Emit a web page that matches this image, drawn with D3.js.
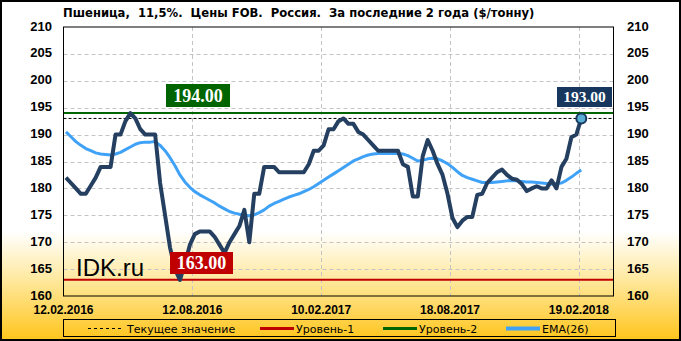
<!DOCTYPE html>
<html>
<head>
<meta charset="utf-8">
<script src="https://cdn.jsdelivr.net/npm/d3@7"></script>
<style>
  body { margin: 0; background: #fff; }
  svg text { font-family: "DejaVu Sans", sans-serif; }
</style>
</head>
<body>
<div id="chart"></div>
<script>
'use strict';

// chart data
var title = 'Пшеница,  11,5%.  Цены FOB.  Россия.  За последние 2 года ($/тонну)';
var tickLabels = ['12.02.2016', '12.08.2016', '10.02.2017', '18.08.2017', '19.02.2018'];
var tickIndex = [0, 26, 52, 78, 104];
var yTicks = [160, 165, 170, 175, 180, 185, 190, 195, 200, 205, 210];

// weekly price, $/t
var price = [
    182, 181, 180, 179, 179, 180.5, 182, 184, 184, 184,
    190, 190, 192.5, 194, 193, 191, 190, 190, 190, 181,
    175, 169, 165, 163, 166, 169.5, 171.5, 172, 172, 172,
    171, 169.5, 168, 170, 171.5, 173, 176, 170, 179, 179,
    184, 184, 184, 183, 183, 183, 183, 183, 183, 184.5,
    187, 187, 188, 191, 191, 192.5, 193, 192, 192, 190.5,
    190, 189, 188, 187, 187, 187, 187, 187, 184.5, 184,
    178.5, 178.5, 186, 189, 187, 184.5, 182.5, 179, 174.5, 172.8,
    174, 174.7, 174.7, 178.8, 179, 181, 182, 183, 183.5, 182.5,
    181.8, 181.6, 180.8, 179.5, 180, 180.4, 180, 180, 181.5, 180,
    184, 185.5, 189.5, 190, 193
];

// EMA(26)
var ema = [
    190.5, 189.6, 188.7, 188.0, 187.4, 187.0, 186.6, 186.4, 186.3, 186.2,
    186.4, 186.7, 187.2, 187.7, 188.2, 188.5, 188.6, 188.6, 188.7, 188.0,
    187.0, 185.7, 184.2, 182.5, 181.2, 180.2, 179.4, 178.8, 178.3, 177.8,
    177.3, 176.7, 176.2, 175.7, 175.4, 175.2, 175.0, 174.9, 175.1, 175.5,
    176.0, 176.7, 177.2, 177.6, 178.0, 178.4, 178.7, 179.0, 179.4, 179.8,
    180.3, 180.9, 181.5, 182.1, 182.7, 183.3, 183.9, 184.5, 185.1, 185.5,
    185.9, 186.2, 186.4, 186.5, 186.5, 186.5, 186.5, 186.5, 186.4, 186.1,
    185.6, 185.1, 185.2, 185.5, 185.6, 185.5, 185.1, 184.6, 183.9, 183.1,
    182.4, 182.0, 181.7, 181.4, 181.1, 181.1, 181.1, 181.2, 181.3, 181.4,
    181.4, 181.4, 181.3, 181.2, 181.2, 181.1, 181.0, 180.9, 180.8, 180.9,
    181.0, 181.5, 182.1, 182.8, 183.4
];

var level1 = 163;
var level2 = 194;
var current = 193;
var legendNames = ['Текущее значение', 'Уровень-1', 'Уровень-2', 'EMA(26)'];

var W = 681, H = 341;
var plot = {left: 63.5, right: 613.5, top: 27, bottom: 296};

var x = d3.scaleLinear().domain([-0.5, 110.5]).range([plot.left, plot.right]);
var y = d3.scaleLinear().domain([160, 210]).range([plot.bottom, plot.top]);

var svg = d3.select('#chart').append('svg')
    .attr('width', W)
    .attr('height', H);

// background: white fading to gold at the bottom
var grad = svg.append('defs').append('linearGradient')
    .attr('id', 'bg')
    .attr('x1', 0).attr('y1', 0).attr('x2', 0).attr('y2', 1);
grad.append('stop').attr('offset', 0).attr('stop-color', '#ffffff');
grad.append('stop').attr('offset', 0.68).attr('stop-color', '#ffffff');
grad.append('stop').attr('offset', 0.82).attr('stop-color', '#ffe9a0');
grad.append('stop').attr('offset', 1).attr('stop-color', '#ffc51c');

svg.append('rect')
    .attr('x', 1).attr('y', 1)
    .attr('width', W - 2).attr('height', H - 2)
    .attr('fill', 'url(#bg)')
    .attr('stroke', '#000')
    .attr('stroke-width', 2);

svg.append('text')
    .attr('x', 63).attr('y', 17)
    .style('white-space', 'pre')
    .attr('font-size', 11.6)
    .attr('font-weight', 'bold')
    .text(title);

// grid
var grid = svg.append('g')
    .attr('stroke', '#c4c4c4')
    .attr('stroke-dasharray', '4,3')
    .attr('stroke-width', 1);
grid.selectAll('line.h')
    .data(yTicks.slice(1, -1))
    .enter().append('line')
    .attr('class', 'h')
    .attr('x1', plot.left).attr('x2', plot.right)
    .attr('y1', function(d) { return Math.round(y(d)) + 0.5; })
    .attr('y2', function(d) { return Math.round(y(d)) + 0.5; });
grid.selectAll('line.v')
    .data(tickIndex.slice(1))
    .enter().append('line')
    .attr('class', 'v')
    .attr('y1', plot.top).attr('y2', plot.bottom)
    .attr('x1', function(d) { return Math.round(x(d - 0.5)) + 0.5; })
    .attr('x2', function(d) { return Math.round(x(d - 0.5)) + 0.5; });

// y labels, both sides
[[52, 'end'], [627, 'start']].forEach(function(side) {
    svg.append('g').selectAll('text')
        .data(yTicks)
        .enter().append('text')
        .attr('x', side[0])
        .attr('y', function(d) { return y(d) + 3.5; })
        .attr('text-anchor', side[1])
        .style('font-family', '"Liberation Sans", Arial, sans-serif')
        .attr('font-size', 13)
        .attr('font-weight', 'bold')
        .text(function(d) { return d; });
});

// x labels
svg.append('g').selectAll('text')
    .data(tickIndex)
    .enter().append('text')
    .attr('x', function(d) { return x(d - 0.5); })
    .attr('y', 313.5)
    .attr('text-anchor', 'middle')
    .style('font-family', '"Liberation Sans", Arial, sans-serif')
    .attr('font-size', 12)
    .attr('font-weight', 'bold')
    .text(function(d, i) { return tickLabels[i]; });

svg.append('text')
    .attr('x', 76).attr('y', 276)
    .style('font-family', '"Liberation Sans", Arial, sans-serif')
    .attr('font-size', 24)
    .text('IDK.ru');

// levels
function hline(v, color, width, dash) {
    svg.append('line')
        .attr('x1', plot.left).attr('x2', plot.right)
        .attr('y1', y(v)).attr('y2', y(v))
        .attr('stroke', color)
        .attr('stroke-width', width)
        .attr('stroke-dasharray', dash);
}
hline(level1, '#c00000', 2, null);
hline(level2, '#006400', 2, null);
hline(current, '#000', 1, '3,2');

var line = d3.line()
    .x(function(d, i) { return x(i); })
    .y(function(d) { return y(d); });

svg.append('path')
    .datum(ema)
    .attr('d', line)
    .attr('fill', 'none')
    .attr('stroke', '#3fa2f7')
    .attr('stroke-width', 3)
    .attr('stroke-linejoin', 'round');

svg.append('path')
    .datum(price)
    .attr('d', line)
    .attr('fill', 'none')
    .attr('stroke', '#243f60')
    .attr('stroke-width', 4)
    .attr('stroke-linejoin', 'round');

// plot frame
svg.append('rect')
    .attr('x', plot.left).attr('y', plot.top)
    .attr('width', plot.right - plot.left)
    .attr('height', plot.bottom - plot.top)
    .attr('fill', 'none')
    .attr('stroke', '#000')
    .attr('stroke-width', 1);

// last point marker
var last = price.length - 1;
svg.append('circle')
    .attr('cx', x(last)).attr('cy', y(price[last]))
    .attr('r', 5)
    .attr('fill', '#5aaed4')
    .attr('stroke', '#17375e')
    .attr('stroke-width', 2);

// value boxes
function valueBox(v, bx, by, bw, bh, fill, size) {
    svg.append('rect')
        .attr('x', bx).attr('y', by)
        .attr('width', bw).attr('height', bh)
        .attr('fill', fill);
    svg.append('text')
        .attr('x', bx + bw / 2).attr('y', by + bh / 2 + size * 0.34)
        .attr('text-anchor', 'middle')
        .style('font-family', '"Liberation Serif", "Times New Roman", serif')
        .attr('font-size', size)
        .attr('font-weight', 'bold')
        .attr('fill', '#fff')
        .text(v.toFixed(2));
}
valueBox(level2, 166, 84, 64, 23, '#006400', 18);
valueBox(level1, 170, 252, 63, 22, '#c00000', 18);
valueBox(current, 557, 87, 55, 20, '#17375e', 15.5);

// legend
var lg = svg.append('g');
lg.append('rect')
    .attr('x', 63.5).attr('y', 319.5)
    .attr('width', 552).attr('height', 17)
    .attr('fill', 'none')
    .attr('stroke', '#000');

var legendX = [88, 260, 383, 506];
var legendStyle = [['#000', 1, '3,3'], ['#c00000', 3, null], ['#006400', 3, null], ['#3fa2f7', 4, null]];
legendNames.forEach(function(name, i) {
    lg.append('line')
        .attr('x1', legendX[i]).attr('x2', legendX[i] + 34)
        .attr('y1', 328.5).attr('y2', 328.5)
        .attr('stroke', legendStyle[i][0])
        .attr('stroke-width', legendStyle[i][1])
        .attr('stroke-dasharray', legendStyle[i][2]);
    lg.append('text')
        .attr('x', legendX[i] + (i === 0 ? 39 : 36)).attr('y', 333)
        .attr('font-size', 11)
        .text(name);
});
</script>
</body>
</html>
